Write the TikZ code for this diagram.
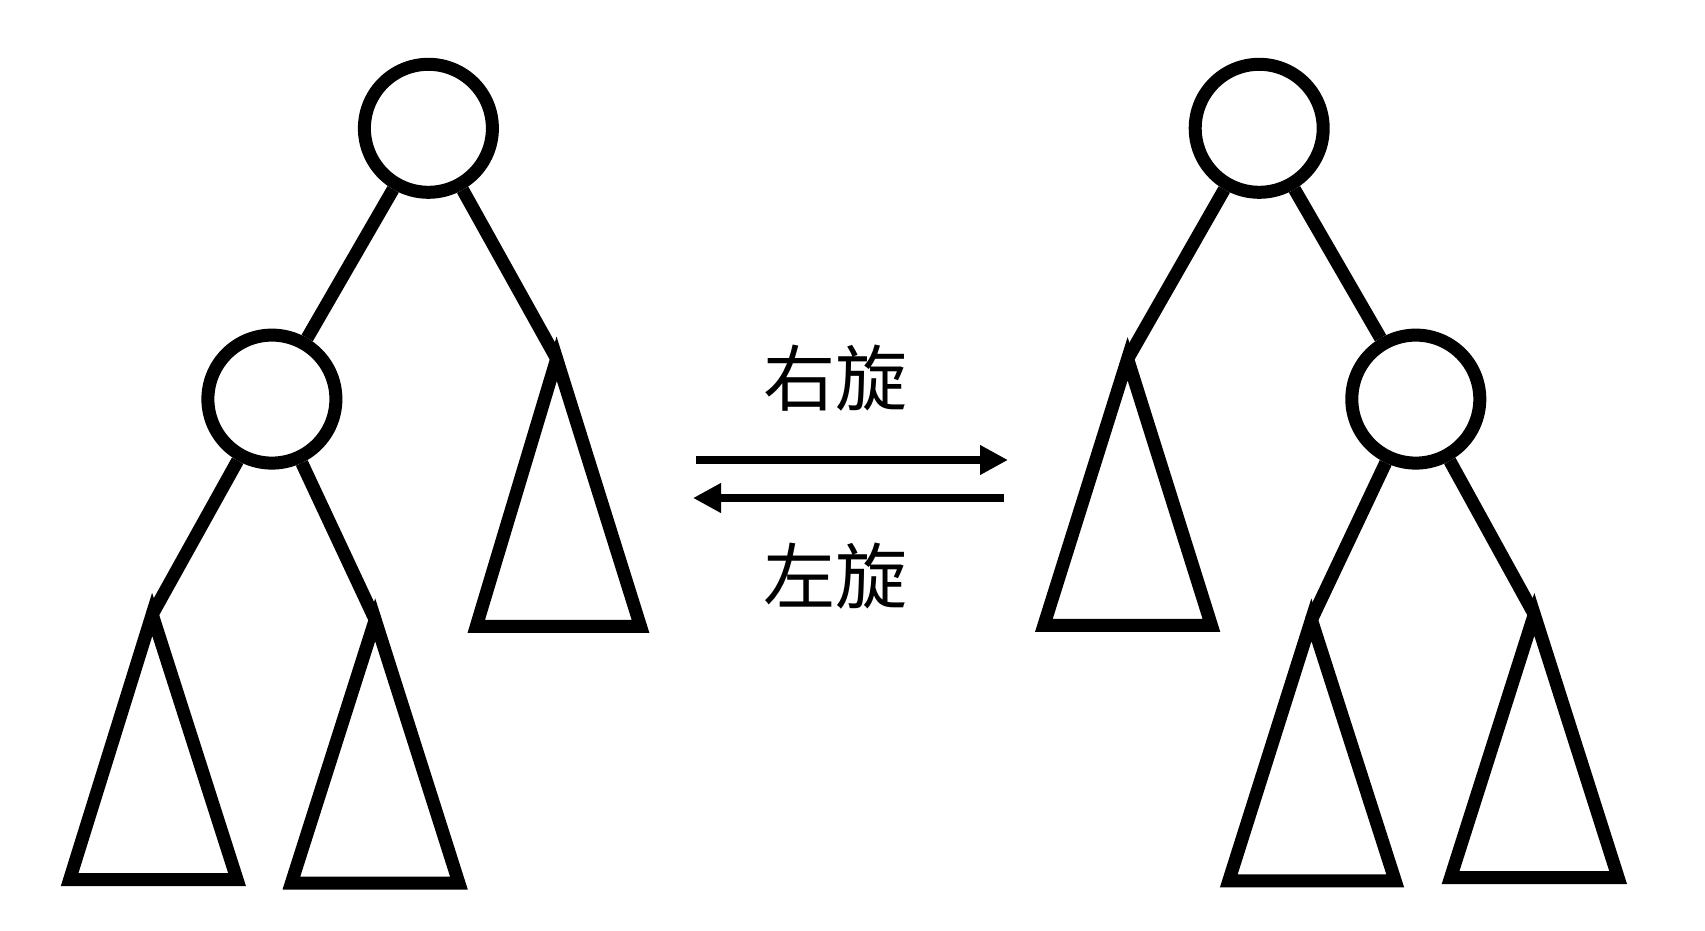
\documentclass[tikz,border=0pt]{standalone}
\usepackage{fontspec}
\newfontfamily\cjk{Noto Sans CJK SC}
\usetikzlibrary{arrows.meta}

\begin{document}
\begin{tikzpicture}[x=1pt,y=-1pt,line width=13pt,
	vertex/.style={circle,draw,minimum size=128pt,inner sep=0pt},
	subtree/.style={draw,line join=miter},
	rotarrow/.style={line width=7.5pt,-{Triangle[length=28pt,width=28pt]}},
	rotlabel/.style={font=\cjk\fontsize{72}{80}\selectfont,inner sep=0pt}]
	\useasboundingbox[fill=white] (0,0) rectangle (1705,931);
	% left tree
	\node[vertex] (L0) at (428.4,128.3) {};
	\node[vertex] (L1) at (271.9,399.1) {};
	\coordinate (La) at (152.2,614.4);
	\coordinate (Lb) at (375.2,619.8);
	\coordinate (Lc) at (556.7,358.8);
	\draw[subtree] (La) -- ++(-82.6,265.3) -- ++(167.5,0) -- cycle;
	\draw[subtree] (Lb) -- ++(-83.8,263.2) -- ++(167.5,0) -- cycle;
	\draw[subtree] (Lc) -- ++(-80.4,267.5) -- ++(164.2,0) -- cycle;
	\draw (L0) -- (L1);
	\draw (L0) -- (Lc);
	\draw (L1) -- (La);
	\draw (L1) -- (Lb);
	% right tree
	\node[vertex] (R0) at (1259.2,128.3) {};
	\node[vertex] (R1) at (1415.8,399.1) {};
	\coordinate (Ra) at (1127.6,358.8);
	\coordinate (Rb) at (1311.4,619.8);
	\coordinate (Rc) at (1534.3,614.4);
	\draw[subtree] (Ra) -- ++(-83.7,266.5) -- ++(167.5,0) -- cycle;
	\draw[subtree] (Rb) -- ++(-82.6,261.0) -- ++(166.4,0) -- cycle;
	\draw[subtree] (Rc) -- ++(-83.7,263.1) -- ++(167.5,0) -- cycle;
	\draw (R0) -- (Ra);
	\draw (R0) -- (R1);
	\draw (R1) -- (Rb);
	\draw (R1) -- (Rc);
	% rotations
	\coordinate (rs) at (696,460);
	\coordinate (re) at (1008,460);
	\coordinate (ls) at (1004,498);
	\coordinate (le) at (693,498);
	\draw[rotarrow] (rs) -- (re);
	\draw[rotarrow] (ls) -- (le);
	\node[rotlabel] (rt) at (835,378) {右旋};
	\node[rotlabel] (lt) at (835,576) {左旋};
\end{tikzpicture}
\end{document}
